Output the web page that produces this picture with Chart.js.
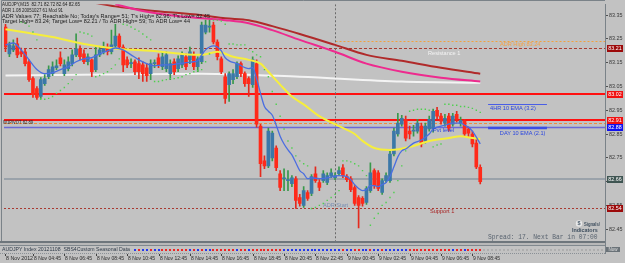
<!DOCTYPE html>
<html><head><meta charset="utf-8">
<script src="https://cdn.jsdelivr.net/npm/chart.js@4.4.0/dist/chart.umd.min.js"></script>
<style>html,body{margin:0;padding:0;background:#c2c2c2;overflow:hidden}canvas{display:block}</style>
</head><body>
<canvas id="c" width="625" height="263"></canvas>
<script>
// ---- data (AUDJPY, M15, 8 Nov 03:00 -> 9 Nov 09:15) ----
const OPEN = [83.300,83.187,83.204,83.229,83.196,83.196,83.154,83.083,83.041,83.008,83.062,83.091,83.104,83.129,83.171,83.104,83.125,83.146,83.183,83.208,83.187,83.154,83.162,83.121,83.183,83.196,83.216,83.196,83.221,83.262,83.216,83.162,83.146,83.154,83.146,83.141,83.129,83.104,83.146,83.171,83.133,83.125,83.104,83.154,83.125,83.141,83.175,83.162,83.183,83.133,83.154,83.279,83.300,83.308,83.237,83.166,83.091,83.058,83.079,83.091,83.146,83.104,83.083,83.058,83.146,82.883,82.737,82.716,82.750,82.791,82.683,82.662,82.654,82.641,82.662,82.583,82.550,82.604,82.600,82.683,82.646,82.654,82.646,82.675,82.666,82.683,82.708,82.671,82.662,82.625,82.583,82.579,82.562,82.612,82.696,82.687,82.604,82.654,82.654,82.766,82.850,82.891,82.912,82.862,82.862,82.862,82.883,82.821,82.871,82.871,82.950,82.925,82.896,82.925,82.891,82.933,82.896,82.904,82.871,82.850,82.812,82.710];
const HIGH = [83.312,83.237,83.246,83.254,83.212,83.208,83.162,83.091,83.050,83.087,83.100,83.137,83.154,83.162,83.196,83.162,83.175,83.204,83.271,83.221,83.204,83.187,83.166,83.216,83.216,83.237,83.229,83.287,83.312,83.271,83.225,83.175,83.166,83.162,83.171,83.154,83.146,83.162,83.162,83.187,83.196,83.196,83.162,83.166,83.179,83.196,83.187,83.216,83.196,83.175,83.321,83.329,83.329,83.321,83.246,83.175,83.104,83.112,83.121,83.154,83.154,83.112,83.091,83.175,83.162,82.891,82.758,82.875,82.862,82.800,82.696,82.704,82.696,82.675,82.671,82.596,82.629,82.612,82.679,82.712,82.658,82.696,82.687,82.704,82.687,82.712,82.721,82.679,82.671,82.633,82.591,82.587,82.629,82.729,82.704,82.696,82.662,82.687,82.779,82.875,82.937,82.929,82.925,82.883,82.887,82.912,82.896,82.896,82.925,82.955,82.962,82.937,82.933,82.937,82.937,82.946,82.921,82.912,82.879,82.862,82.829,82.720];
const LOW = [83.196,83.175,83.196,83.171,83.175,83.137,83.071,83.004,82.996,83.000,83.054,83.083,83.096,83.121,83.137,83.096,83.116,83.137,83.175,83.162,83.146,83.141,83.091,83.112,83.175,83.187,83.183,83.187,83.212,83.208,83.112,83.129,83.129,83.100,83.083,83.071,83.071,83.079,83.129,83.129,83.121,83.112,83.079,83.100,83.112,83.129,83.121,83.146,83.121,83.112,83.146,83.271,83.279,83.229,83.162,83.104,82.979,82.987,83.062,83.083,83.091,83.050,83.008,83.046,82.879,82.671,82.704,82.708,82.737,82.696,82.612,82.612,82.612,82.629,82.537,82.546,82.541,82.571,82.591,82.646,82.612,82.646,82.637,82.666,82.658,82.675,82.666,82.650,82.608,82.550,82.455,82.546,82.554,82.604,82.621,82.612,82.596,82.646,82.646,82.758,82.841,82.883,82.821,82.829,82.841,82.854,82.796,82.812,82.862,82.858,82.912,82.891,82.883,82.862,82.883,82.900,82.883,82.841,82.837,82.796,82.704,82.640];
const CLOSE = [83.216,83.225,83.221,83.183,83.187,83.146,83.079,83.016,83.004,83.079,83.083,83.121,83.133,83.137,83.146,83.141,83.154,83.183,83.208,83.175,83.154,83.175,83.112,83.183,83.204,83.216,83.196,83.225,83.262,83.216,83.141,83.141,83.150,83.112,83.112,83.104,83.096,83.146,83.150,83.141,83.175,83.183,83.146,83.112,83.166,83.183,83.133,83.196,83.133,83.166,83.308,83.308,83.304,83.237,83.175,83.112,83.000,83.104,83.104,83.146,83.104,83.062,83.062,83.162,82.891,82.725,82.716,82.862,82.854,82.708,82.625,82.666,82.658,82.666,82.571,82.558,82.612,82.579,82.671,82.654,82.625,82.683,82.675,82.687,82.675,82.696,82.675,82.658,82.616,82.558,82.550,82.558,82.621,82.687,82.633,82.621,82.654,82.675,82.766,82.862,82.896,82.916,82.833,82.850,82.866,82.896,82.808,82.883,82.912,82.946,82.925,82.904,82.916,82.875,82.925,82.912,82.908,82.850,82.854,82.808,82.712,82.650];

// indicator lines as [bar index, price]
const EMA_FAST = [[0,83.225],[2,83.233],[4,83.204],[6,83.162],[8,83.121],[10,83.104],[12,83.108],[14,83.121],[16,83.133],[18,83.154],[20,83.166],[22,83.171],[24,83.187],[26,83.200],[28,83.212],[30,83.204],[32,83.183],[34,83.162],[36,83.146],[38,83.137],[40,83.141],[42,83.141],[44,83.146],[46,83.150],[48,83.154],[49,83.158],[50,83.183],[51,83.204],[52,83.216],[53,83.221],[54,83.216],[55,83.200],[56,83.171],[57,83.158],[59,83.146],[62,83.125],[63,83.129],[64,83.083],[65,83.021],[66,82.966],[67,82.946],[68,82.929],[69,82.887],[70,82.841],[71,82.808],[72,82.783],[73,82.762],[74,82.729],[75,82.696],[76,82.683],[77,82.662],[78,82.666],[80,82.662],[82,82.666],[85,82.675],[87,82.671],[88,82.658],[89,82.637],[90,82.621],[91,82.612],[92,82.616],[93,82.633],[94,82.633],[95,82.629],[96,82.637],[97,82.646],[98,82.671],[99,82.712],[100,82.754],[101,82.779],[102,82.787],[104,82.812],[106,82.825],[108,82.850],[109,82.871],[110,82.879],[112,82.887],[114,82.896],[116,82.896],[117,82.887],[118,82.879],[119,82.862],[120,82.837],[121,82.808]];
const EMA_MID = [[0,83.291],[6,83.275],[12,83.258],[20,83.229],[29,83.208],[37,83.200],[45,83.187],[50,83.183],[54,83.196],[58,83.175],[62,83.162],[65,83.146],[67,83.112],[70,83.058],[73,83.008],[76,82.975],[80,82.925],[85,82.883],[89,82.850],[91,82.821],[94,82.791],[98,82.783],[104,82.800],[108,82.821],[113,82.833],[116,82.841],[119,82.833],[121,82.829]];
const SMA_WHITE = [[0,83.096],[25,83.100],[50,83.104],[75,83.091],[101,83.071],[121,83.066]];
const MA_BROWN = [[22,83.404],[28,83.387],[36,83.371],[50,83.350],[56,83.337],[62,83.329],[68,83.304],[75,83.271],[84,83.225],[92,83.183],[101,83.158],[111,83.129],[121,83.104]];
const MA_PINK = [[28,83.396],[34,83.371],[42,83.350],[50,83.337],[56,83.329],[62,83.316],[68,83.287],[75,83.246],[84,83.196],[92,83.146],[101,83.112],[111,83.087],[121,83.071]];
const SAR = [[4,83.321],[5,83.316],[6,83.304],[7,83.279],[8,83.246],[9,82.996],[10,82.996],[11,83.000],[12,83.008],[13,83.021],[14,83.033],[15,83.046],[16,83.062],[17,83.079],[18,83.100],[19,83.279],[20,83.275],[21,83.271],[22,83.262],[23,83.091],[24,83.096],[25,83.104],[26,83.112],[27,83.125],[28,83.141],[29,83.166],[30,83.312],[31,83.308],[32,83.300],[33,83.291],[34,83.283],[35,83.271],[36,83.258],[37,83.246],[38,83.071],[39,83.071],[40,83.075],[41,83.079],[42,83.083],[43,83.083],[44,83.087],[45,83.091],[46,83.100],[47,83.104],[48,83.112],[49,83.116],[50,83.121],[51,83.154],[52,83.187],[53,83.329],[54,83.329],[55,83.325],[56,83.312],[57,83.229],[58,83.229],[59,83.225],[60,83.225],[61,83.225],[62,83.204],[63,83.196],[64,83.183],[65,83.175],[66,83.121],[67,83.091],[68,83.029],[69,82.975],[70,82.925],[71,82.871],[72,82.821],[73,82.791],[74,82.758],[75,82.737],[76,82.725],[77,82.716],[78,82.537],[79,82.541],[80,82.550],[81,82.558],[82,82.571],[83,82.583],[84,82.596],[85,82.612],[86,82.737],[87,82.737],[88,82.733],[89,82.725],[90,82.716],[91,82.696],[92,82.675],[93,82.466],[94,82.496],[95,82.516],[96,82.550],[97,82.562],[98,82.583],[99,82.604],[100,82.654],[101,82.716],[102,82.779],[103,82.946],[104,82.950],[105,82.954],[106,82.954],[107,82.954],[108,82.950],[109,82.796],[110,82.804],[111,82.808],[112,82.975],[113,82.975],[114,82.971],[115,82.971],[116,82.966],[117,82.966],[118,82.962],[119,82.958],[120,82.950],[121,82.941]];
const TREND_START = 33;
const TREND_BIAS = [1,-1,1,1,-1,1,1, -1,-1,-1,-1,-1,-1,-1, 1,-1,1,-1,1,1, -1,-1,-1,-1,-1,-1, 1,-1,-1,1,-1, -1,-1,-1,-1,-1,-1,-1, 1,1,1,1,1,1,1,1,1,1,1,1,1,1, 1,-1,1,1,-1,-1,1,1,-1,1,1,-1,1,1,1, 1,1,1, -1,-1,-1,-1,-1,-1,-1,-1,-1,-1, -1,1,-1,-1,1,-1,-1,-1,-1];

// levels
const RESISTANCE_1 = 83.21, ADR_HIGH = 83.24, RED_LEVEL_1 = 83.02, RED_LEVEL_2 = 82.91;
const PIVOT_LEVEL = 82.895, DAY_EMA_LEVEL = 82.88, BID_LEVEL = 82.66, SUPPORT_1 = 82.54;
const EMA_4H_LEVEL = 82.978, DAY_START_BAR = 84;

// axes
const Y_TICKS = [82.45,82.55,82.65,82.75,82.85,82.95,83.05,83.15,83.25,83.35];
const X_TICK_BARS = [0,7,15,23,31,39,47,55,63,71,79,87,95,103,111,119];
const X_TICK_LABELS = ["8 Nov 2012","8 Nov 04:45","8 Nov 06:45","8 Nov 08:45","8 Nov 10:45","8 Nov 12:45","8 Nov 14:45","8 Nov 16:45","8 Nov 18:45","8 Nov 20:45","8 Nov 22:45","9 Nov 00:45","9 Nov 02:45","9 Nov 04:45","9 Nov 06:45","9 Nov 08:45"];
const PRICE_BOXES = [[83.21,'#9c0a0a'],[83.02,'#f01010'],[82.91,'#f01010'],[82.88,'#1010f0'],[82.66,'#3f5552'],[82.54,'#9c0a0a']];

const INFO = ["AUDJPY,M15  82.71 82.72 82.64 82.65",
 "ADR 1.08 20051027 61 Mod 91",
 "ADR Values 77; Reachable No; Today's Range= 51; T's High= 82.96; T's Low= 82.45",
 "Target High= 83.24; Target Low= 82.21 / To ADR High= 59; To ADR Low= 44"];

// ---- build ----
const BULL_BODY='#3b78a8', BEAR_BODY='#ff2a1a', BULL_WICK='#38984a', BEAR_WICK='#e42a1e';
const up = OPEN.map((o,i)=>CLOSE[i]>=o);
const pts = a => a.map(([x,y])=>({x,y}));
const F = 'Liberation Sans, Arial, sans-serif';

function hline(c,y,x0,x1,color,w,dash){c.save();c.strokeStyle=color;c.lineWidth=w;c.setLineDash(dash||[]);c.beginPath();c.moveTo(x0,y);c.lineTo(x1,y);c.stroke();c.restore();}
function txt(c,s,x,y,size,color,opts){opts=opts||{};c.save();c.font=(opts.bold?'bold ':'')+size+'px '+(opts.family||F);c.fillStyle=color;c.textAlign=opts.align||'left';c.textBaseline='middle';if(opts.maxW)c.fillText(s,x,y,opts.maxW);else c.fillText(s,x,y);c.restore();}

const overlay = {
  id:'overlay',
  beforeDraw(chart){const c=chart.ctx;c.save();c.fillStyle='#c2c2c2';c.fillRect(0,0,chart.width,chart.height);c.restore();},
  beforeDatasetsDraw(chart){
    const c=chart.ctx, a=chart.chartArea, y=chart.scales.y, x=chart.scales.x;
    const py=v=>Math.round(y.getPixelForValue(v));
    c.save(); c.beginPath(); c.rect(a.left,a.top,a.right-a.left,a.bottom-a.top); c.clip();
    const sx = Math.round(x.getPixelForValue(DAY_START_BAR))+0.5;
    hline(c,py(RESISTANCE_1)+0.5,a.left,a.right,'#a83a32',1,[3,2]);
    hline(c,py(ADR_HIGH)+0.5,sx,a.right,'#f0a040',1,[2,2]);
    hline(c,py(RED_LEVEL_1),a.left,a.right,'#ff1010',2);
    hline(c,py(RED_LEVEL_2),a.left,a.right,'#ff1010',2);
    hline(c,py(PIVOT_LEVEL)+0.5,a.left,a.right,'#f08a40',1,[3,2]);
    hline(c,py(DAY_EMA_LEVEL)+0.5,a.left,a.right,'#6a6ad8',1.5);
    hline(c,py(BID_LEVEL),a.left,a.right,'#9aa2aa',2);
    hline(c,py(SUPPORT_1)+0.5,a.left,a.right,'#a83a32',1,[2,2]);
    c.strokeStyle='#6a6a6a';c.lineWidth=1;c.setLineDash([2,2]);c.beginPath();c.moveTo(sx,a.top);c.lineTo(sx,a.bottom);c.stroke();
    c.restore();
  },
  afterDraw(chart){
    const c=chart.ctx, a=chart.chartArea, y=chart.scales.y, x=chart.scales.x;
    const py=v=>y.getPixelForValue(v), px=v=>x.getPixelForValue(v);
    // frame
    c.save(); c.strokeStyle='#7a8288'; c.lineWidth=1;
    c.beginPath(); c.moveTo(1.5,a.bottom); c.lineTo(1.5,0.5); c.lineTo(a.right,0.5); c.stroke(); c.restore();
    // EMA marker segments
    hline(c,Math.round(py(EMA_4H_LEVEL))+0.5,px(123),px(138),'#4a5ee6',1.2);
    hline(c,Math.round(py(DAY_EMA_LEVEL))+1,px(123),px(138),'#3a4ee6',2.5);
    txt(c,'4HR 10 EMA (3.2)',px(123)+2,py(EMA_4H_LEVEL)+4.5,5.6,'#2a46e0');
    txt(c,'DAY 10 EMA (2.1)',px(126),py(DAY_EMA_LEVEL)+6.5,5.6,'#2a46e0');
    // level labels
    txt(c,'Resistance 1',428,py(RESISTANCE_1)+4.5,5.6,'#f4f4f4');
    txt(c,'ADR High 83.24',500,py(ADR_HIGH)+3,5.6,'#f2a24a');
    txt(c,'Support 1',430,py(SUPPORT_1)+4,5.6,'#a82020');
    txt(c,'ADR Start',323,205,5.6,'#7a90b4');
    txt(c,'Pvt level',433,py(DAY_EMA_LEVEL)+4,5.6,'#2a46e0');
    txt(c,'W1PIVOT 82.89',3,py(RED_LEVEL_2)+2.5,5,'#2a2a2a',{maxW:30});
    // info lines
    const iy=[4.5,10.3,16,21.7], iw=[78,61,208,188];
    INFO.forEach((s,i)=>txt(c,s,2,iy[i],5.6,'#1c1c1c',{maxW:iw[i]}));
    // spread text + logo
    txt(c,'Spread: 17. Next Bar in 07:00',488,237.5,6.3,'#5a6470',{family:'Liberation Mono, monospace',maxW:114});
    c.save(); c.fillStyle='#e8e8e8'; c.beginPath(); c.arc(579,223.5,3.2,0,Math.PI*2); c.fill(); c.restore();
    txt(c,'$',579,223.8,5.5,'#506070',{align:'center',bold:true});
    txt(c,'Signals/',584,224.5,5.4,'#3e4e5e',{bold:true,maxW:16});
    txt(c,'Indicators',572,230.5,5.4,'#3e4e5e',{bold:true,maxW:27});
    // price boxes on axis
    PRICE_BOXES.forEach(([v,col])=>{const yy=Math.round(py(v));c.save();c.fillStyle=col;c.fillRect(607,yy-3,16,7);c.restore();txt(c,v.toFixed(2),615,yy+0.5,5.3,'#ffffff',{align:'center',maxW:15});});
    // bottom separator + sub window
    c.save(); c.fillStyle='#6e767c'; c.fillRect(0,a.bottom,a.right+1,2);
    c.fillStyle='#b8b8b8'; c.fillRect(0,a.bottom+2,a.right,3);
    c.fillStyle='#80888e'; c.fillRect(0,245,a.right+1,1);
    c.fillStyle='#7a8288'; c.fillRect(a.right,a.bottom,1,13);
    c.restore();
    txt(c,'AUDJPY Index 20121108  SBS4Custom Seasonal Data',2,249.8,5.3,'#2e3a48',{maxW:128});
    TREND_BIAS.forEach((b,k)=>{const xx=Math.round(px(TREND_START+k));c.save();c.fillStyle=b>0?'#2438f0':'#f02424';c.fillRect(xx-1,249,2,2);c.restore();});
    c.save(); c.fillStyle='#9a9a9a';
    for(let i=122;i<153;i++){const xx=Math.round(px(i));c.fillRect(xx-1,249.5,2,1);}
    c.setLineDash([1,1]); c.strokeStyle='#8a9096'; c.beginPath(); c.moveTo(0,253.5); c.lineTo(a.right,253.5); c.stroke();
    c.fillStyle='#6a7278'; c.fillRect(606,247,14,5);
    c.restore();
    txt(c,'Now',613,249.7,4.5,'#e0e0e0',{align:'center',maxW:13});
    // x tick marks + labels (positions from the x scale)
    c.save(); c.fillStyle='#404040';
    X_TICK_BARS.forEach(b=>{c.fillRect(Math.round(px(b)),254,1,2);}); c.restore();
    X_TICK_BARS.forEach((b,k)=>txt(c,X_TICK_LABELS[k],Math.round(px(b))+1,258.8,5.6,'#2a2a2a',{maxW:27}));
  }
};

const xMin = -0.38, xMax = 152.8;
new Chart(document.getElementById('c'), {
  type:'bar',
  data:{datasets:[
    {type:'line',label:'SAR',data:pts(SAR),showLine:false,pointStyle:'rect',pointRadius:1,pointBackgroundColor:'#4ed04e',pointBorderWidth:0,order:0},
    {type:'line',label:'EMA fast',data:pts(EMA_FAST),borderColor:'#4a6ee0',borderWidth:1.3,pointRadius:0,cubicInterpolationMode:'monotone',order:1},
    {type:'line',label:'EMA mid',data:pts(EMA_MID),borderColor:'#f6ee3c',borderWidth:2,pointRadius:0,cubicInterpolationMode:'monotone',order:2},
    {type:'bar',label:'body',data:OPEN.map((o,i)=>({x:i,y:[o,CLOSE[i]]})),backgroundColor:up.map(u=>u?BULL_BODY:BEAR_BODY),barThickness:3,grouped:false,minBarLength:1,borderWidth:0,order:3},
    {type:'bar',label:'wick',data:LOW.map((l,i)=>({x:i,y:[l,HIGH[i]]})),backgroundColor:up.map(u=>u?BULL_WICK:BEAR_WICK),barThickness:1,grouped:false,borderWidth:0,order:4},
    {type:'line',label:'MA pink',data:pts(MA_PINK),borderColor:'#ee2a8e',borderWidth:2,pointRadius:0,cubicInterpolationMode:'monotone',order:5},
    {type:'line',label:'MA brown',data:pts(MA_BROWN),borderColor:'#b02a2a',borderWidth:2,pointRadius:0,cubicInterpolationMode:'monotone',order:6},
    {type:'line',label:'MA white',data:pts(SMA_WHITE),borderColor:'#f4f4f4',borderWidth:2,pointRadius:0,cubicInterpolationMode:'monotone',order:7}
  ]},
  options:{
    responsive:false, animation:false, devicePixelRatio:1,
    layout:{padding:{left:3,top:2,right:0,bottom:0}},
    plugins:{legend:{display:false},tooltip:{enabled:false}},
    scales:{
      x:{type:'linear',min:xMin,max:xMax,offset:false,grid:{display:false,drawTicks:false,tickLength:0},border:{display:false},
        afterBuildTicks:s=>{s.ticks=X_TICK_BARS.map(v=>({value:v}));},
        afterFit:s=>{s.height=22;},
        ticks:{display:false}},
      y:{position:'right',min:82.40,max:83.396,
        grid:{drawOnChartArea:false,tickLength:3,color:'#505050'},border:{display:true,color:'#7a8288',width:1},
        afterBuildTicks:s=>{s.ticks=Y_TICKS.map(v=>({value:v}));},
        afterFit:s=>{s.width=20;},
        ticks:{padding:1,color:'#383838',font:{size:5.4,family:F},callback:v=>v.toFixed(2)}}
    }
  },
  plugins:[overlay]
});
</script></body></html>
